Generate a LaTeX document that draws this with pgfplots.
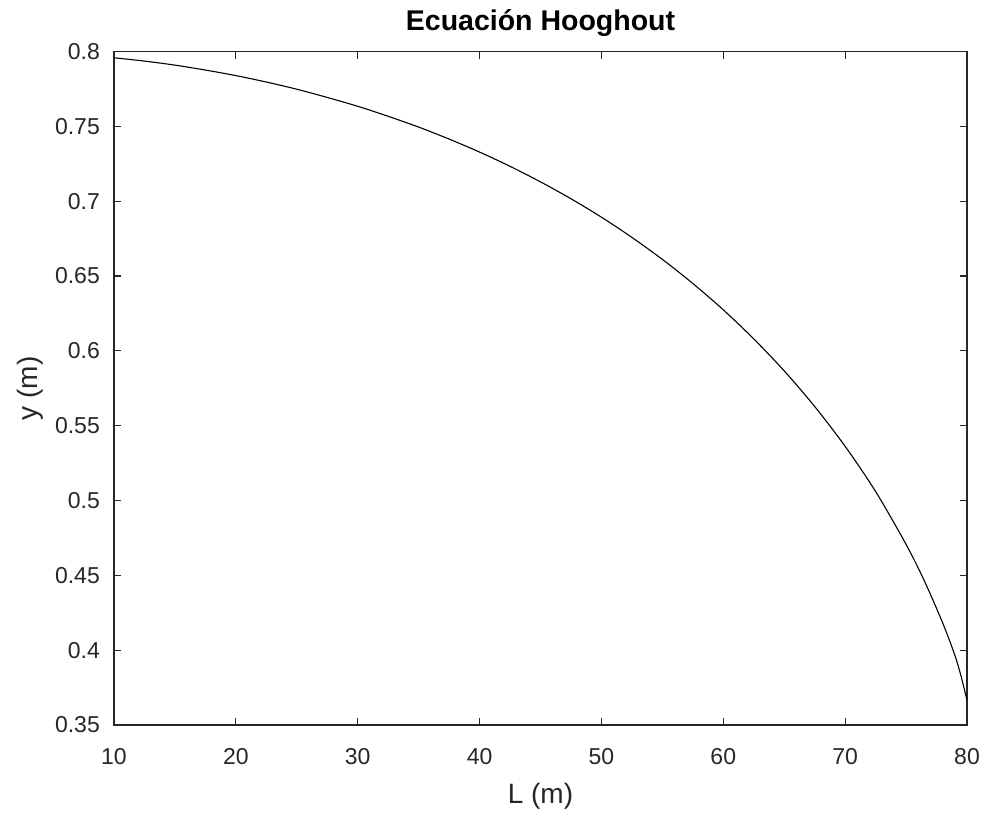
\documentclass[border=0pt]{standalone}
\usepackage{pgfplots}
\pgfplotsset{compat=1.18}
\usepackage{fontspec}
\setmainfont{Liberation Sans}
\definecolor{axgray}{HTML}{262626}
\begin{document}
\begin{tikzpicture}
\begin{axis}[
  at={(0pt,0pt)}, anchor=south west,
  width=853pt, height=673.5pt, scale only axis,
  xmin=10, xmax=80, ymin=0.35, ymax=0.8,
  xtick={10,20,30,40,50,60,70,80},
  ytick={0.35,0.4,0.45,0.5,0.55,0.6,0.65,0.7,0.75,0.8},
  tick pos=both, tick align=inside,
  major tick length=7pt,
  axis line style={draw=axgray, line width=1.1pt},
  tick style={draw=axgray, line width=1.1pt},
  /pgf/number format/assume math mode=true,
  ticklabel style={font=\fontsize{23}{23}\selectfont, text=axgray},
  xticklabel style={anchor=base, inner sep=0pt, yshift=-39pt},
  yticklabel style={anchor=east, inner sep=0pt, xshift=-14pt,
    /pgf/number format/.cd, fixed, precision=2},
  xlabel={L (m)}, ylabel={y (m)},
  label style={font=\fontsize{28}{28}\selectfont, text=axgray},
  xlabel style={at={(axis description cs:0.5,0)}, anchor=base, inner sep=0pt, yshift=-78pt},
  ylabel style={at={(axis description cs:-0.0985,0.5)}, anchor=center, inner sep=0pt},
  title={Ecuación Hooghout},
  title style={at={(axis description cs:0.5,1)}, anchor=base, inner sep=0pt, yshift=14.8pt,
    font=\bfseries\fontsize{28.5}{28.5}\selectfont, text=black},
]
\addplot[black, line width=1.1pt, smooth] coordinates {
(10,0.7958) (12.5,0.7936) (15,0.7909) (17.5,0.7876) (20,0.7839)
(22.5,0.7796) (25,0.7748) (27.5,0.7693) (30,0.7634) (32.5,0.7567)
(35,0.7495) (37.5,0.7415) (40,0.7328) (42.5,0.7233) (45,0.7129)
(47.5,0.7016) (50,0.6893) (52.5,0.6758) (55,0.6611) (57.5,0.6450)
(60,0.6274) (62.5,0.6080) (65,0.5866) (67.5,0.5628) (70,0.5362)
(72.5,0.5060) (75,0.4707) (76.5,0.4463) (78,0.4183) (79,0.3967)
(79.5,0.3830) (80,0.3665)
};
\end{axis}
\path (-114pt,-95pt) rectangle (869pt,725pt);
\end{tikzpicture}
\end{document}
